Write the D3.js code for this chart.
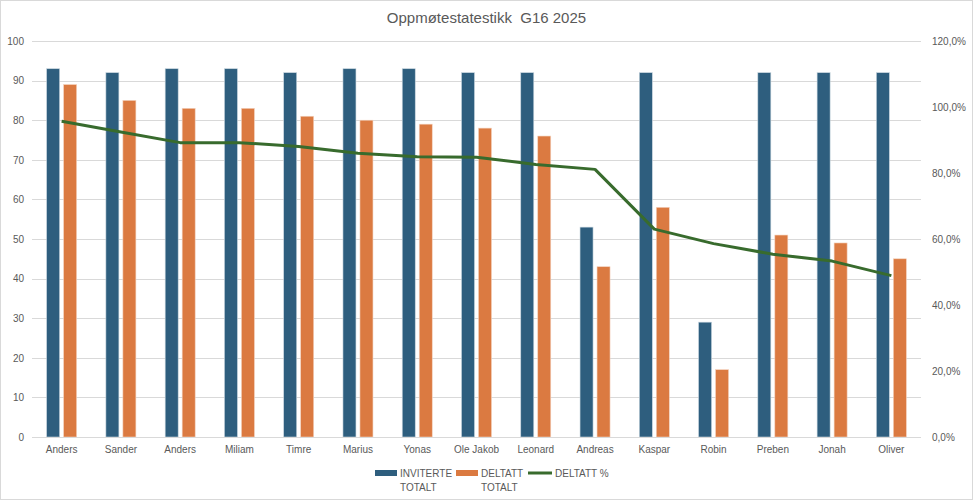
<!DOCTYPE html>
<html>
<head>
<meta charset="utf-8">
<script src="https://cdn.jsdelivr.net/npm/d3@7"></script>
<style>
  body { margin: 0; background: #fff; }
  svg text { font-family: "Liberation Sans", "DejaVu Sans", sans-serif; fill: #595959; }
</style>
</head>
<body>
<div id="chart"></div>
<script>
// values
const players = ['Anders', 'Sander', 'Anders', 'Miliam', 'Timre', 'Marius', 'Yonas', 'Ole Jakob',
    'Leonard', 'Andreas', 'Kaspar', 'Robin', 'Preben', 'Jonah', 'Oliver'];
const invited = [93, 92, 93, 93, 92, 93, 93, 92, 92, 53, 92, 29, 92, 92, 92];
const attended = [89, 85, 83, 83, 81, 80, 79, 78, 76, 43, 58, 17, 51, 49, 45];
const attendedPct = [95.7, 92.4, 89.2, 89.2, 88.0, 86.0, 84.9, 84.8, 82.6, 81.1, 63.0, 58.6, 55.4, 53.3, 48.9];
const leftTicks = [0, 10, 20, 30, 40, 50, 60, 70, 80, 90, 100];
const rightTicks = [0, 20, 40, 60, 80, 100, 120];

const width = 973, height = 500;
const margin = { top: 41, right: 52, bottom: 63, left: 32 };

const colors = { blue: '#2e5e7e', orange: '#db7a41', green: '#386b2d', grid: '#d9d9d9' };

const svg = d3.select('#chart').append('svg')
    .attr('width', width)
    .attr('height', height);

svg.append('rect')
    .attr('x', 0.5).attr('y', 0.5)
    .attr('width', width - 1).attr('height', height - 1)
    .attr('fill', '#fff')
    .attr('stroke', '#d9d9d9');

const x = d3.scaleBand()
    .domain(d3.range(players.length))
    .range([margin.left, width - margin.right]);

const y = d3.scaleLinear().domain([0, 100]).range([height - margin.bottom, margin.top]);
const y2 = d3.scaleLinear().domain([0, 120]).range([height - margin.bottom, margin.top]);

// title (keeps the double space)
svg.append('text')
    .attr('x', width / 2)
    .attr('y', 23)
    .attr('text-anchor', 'middle')
    .style('font-size', '15px')
    .style('white-space', 'pre')
    .text('Oppmøtestatestikk  G16 2025');

// gridlines
svg.append('g')
    .selectAll('line')
    .data(leftTicks)
    .join('line')
    .attr('x1', margin.left)
    .attr('x2', width - margin.right)
    .attr('y1', d => Math.round(y(d)) + 0.5)
    .attr('y2', d => Math.round(y(d)) + 0.5)
    .attr('stroke', colors.grid);

// left axis
const yAxis = svg.append('g')
    .attr('transform', `translate(${margin.left - 8},0)`)
    .call(d3.axisLeft(y).tickValues(leftTicks).tickSize(0).tickPadding(0));
yAxis.select('.domain').remove();
yAxis.selectAll('text').style('font-size', '10px').attr('fill', '#595959');

// right axis
const yAxis2 = svg.append('g')
    .attr('transform', `translate(${width - margin.right + 11},0)`)
    .call(d3.axisRight(y2).tickValues(rightTicks).tickSize(0).tickPadding(0)
        .tickFormat(d => d3.format('.1f')(d).replace('.', ',') + '%'));
yAxis2.select('.domain').remove();
yAxis2.selectAll('text').style('font-size', '10px').attr('fill', '#595959');

// x labels
const xAxis = svg.append('g')
    .attr('transform', `translate(0,${height - margin.bottom})`)
    .call(d3.axisBottom(x).tickSize(0).tickPadding(9).tickFormat(i => players[i]));
xAxis.select('.domain').remove();
xAxis.selectAll('text').style('font-size', '10px').attr('fill', '#595959');

// bars
const barW = 13, gap = 4;
const bars = svg.append('g');
bars.selectAll('.inv')
    .data(invited)
    .join('rect')
    .attr('class', 'inv')
    .attr('x', (d, i) => x(i) + x.bandwidth() / 2 - gap / 2 - barW)
    .attr('y', d => y(d))
    .attr('width', barW)
    .attr('height', d => y(0) - y(d))
    .attr('fill', colors.blue)
    .attr('stroke', '#c9d6df')
    .attr('stroke-width', 0.6);

bars.selectAll('.att')
    .data(attended)
    .join('rect')
    .attr('class', 'att')
    .attr('x', (d, i) => x(i) + x.bandwidth() / 2 + gap / 2)
    .attr('y', d => y(d))
    .attr('width', barW)
    .attr('height', d => y(0) - y(d))
    .attr('fill', colors.orange)
    .attr('stroke', '#f3d3bf')
    .attr('stroke-width', 0.6);

// baseline
svg.append('line')
    .attr('x1', margin.left)
    .attr('x2', width - margin.right)
    .attr('y1', Math.round(y(0)) + 0.5)
    .attr('y2', Math.round(y(0)) + 0.5)
    .attr('stroke', colors.grid);

// percentage line
const line = d3.line()
    .x((d, i) => x(i) + x.bandwidth() / 2)
    .y(d => y2(d));

svg.append('path')
    .datum(attendedPct)
    .attr('d', line)
    .attr('fill', 'none')
    .attr('stroke', colors.green)
    .attr('stroke-width', 3)
    .attr('stroke-linejoin', 'round');

// legend
const legend = svg.append('g').style('font-size', '10px');
const items = [
    { type: 'bar', color: colors.blue, lines: ['INVITERTE', 'TOTALT'], x: 375 },
    { type: 'bar', color: colors.orange, lines: ['DELTATT', 'TOTALT'], x: 456 },
    { type: 'line', color: colors.green, lines: ['DELTATT %'], x: 528 }
];
items.forEach(it => {
    const g = legend.append('g').attr('transform', `translate(${it.x},473)`);
    if (it.type === 'bar') {
        g.append('rect').attr('x', 0).attr('y', -3).attr('width', 22).attr('height', 6).attr('fill', it.color);
    } else {
        g.append('line').attr('x1', 0).attr('x2', 24).attr('y1', 0).attr('y2', 0)
            .attr('stroke', it.color).attr('stroke-width', 3);
    }
    it.lines.forEach((t, k) => {
        g.append('text')
            .attr('x', it.type === 'bar' ? 25 : 27)
            .attr('y', 4 + k * 14)
            .text(t);
    });
});
</script>
</body>
</html>
